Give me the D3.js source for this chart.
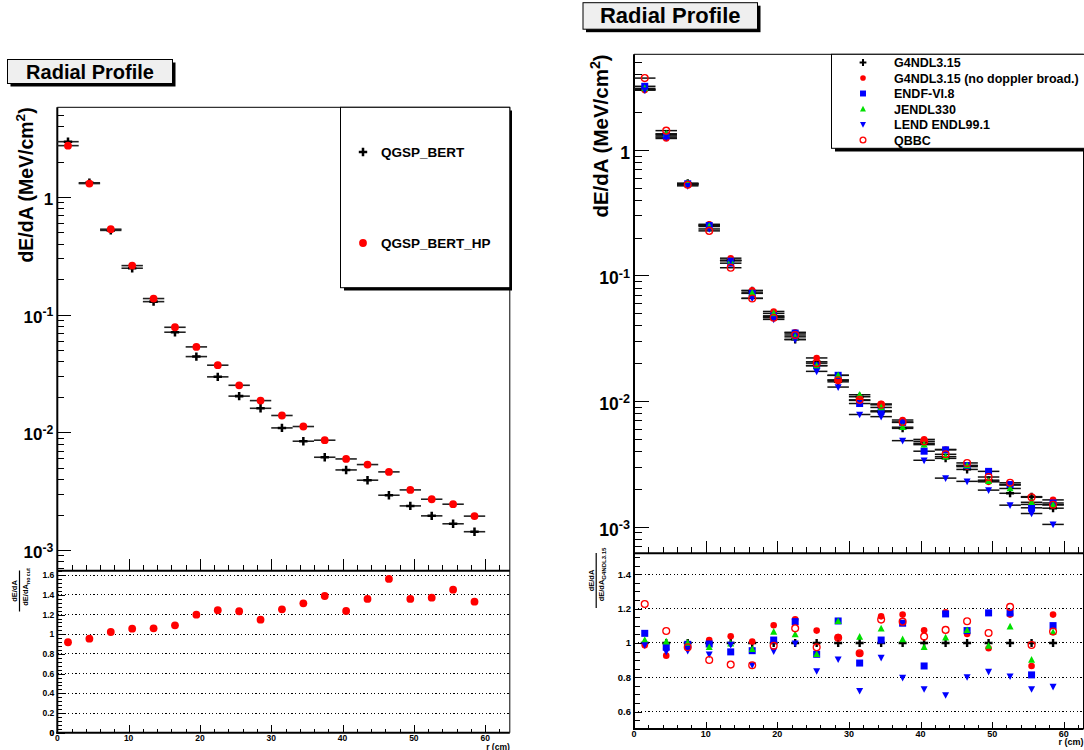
<!DOCTYPE html>
<html><head><meta charset="utf-8">
<script src="https://cdn.jsdelivr.net/npm/d3@7"></script>
<style>
body{margin:0;background:#fff}
svg{display:block}
text{font-family:"Liberation Sans",Arial,Helvetica,sans-serif;font-weight:bold;fill:#000}
</style>
</head><body>
<svg id="c" width="1084" height="750"></svg>
<script>
// ---------------- data ----------------
const bins = [1.5,4.5,7.5,10.5,13.5,16.5,19.5,22.5,25.5,28.5,31.5,34.5,37.5,40.5,43.5,46.5,49.5,52.5,55.5,58.5];
const binHalf = 1.5;
const xMajorTicks = [0,10,20,30,40,50,60];

// left panel
const leftSeriesNames = ["QGSP_BERT","QGSP_BERT_HP"];
const qgspBert   = [2.95,1.32,0.52,0.248,0.129,0.0709,0.044,0.0296,0.0203,0.016,0.0109,0.0084,0.00614,0.00479,0.00392,0.00292,0.00237,0.00195,0.00167,0.00143];
const qgspBertHp = [2.73,1.30,0.532,0.261,0.137,0.0781,0.0532,0.0372,0.0251,0.0186,0.0139,0.0112,0.00857,0.00594,0.00532,0.00461,0.00324,0.0027,0.00245,0.00194];
const ratioHpOverBert = [0.919,0.955,1.023,1.057,1.061,1.091,1.199,1.244,1.234,1.148,1.254,1.315,1.389,1.237,1.359,1.562,1.359,1.372,1.453,1.331];
const leftRatioTicks = [0,0.2,0.4,0.6,0.8,1,1.2,1.4,1.6];

// right panel
const rightSeriesNames = ["G4NDL3.15","G4NDL3.15 (no doppler broad.)","ENDF-VI.8","JENDL330","LEND ENDL99.1","QBBC"];
const g4ndl     = [3.03,1.326,0.54,0.251,0.132,0.0753,0.0468,0.0309,0.0205,0.0142,0.0108,0.0082,0.00605,0.0046,0.00349,0.00285,0.00234,0.00184,0.00173,0.0014];
const g4ndlNoDb = [2.99,1.23,0.529,0.255,0.137,0.0759,0.0516,0.0352,0.022,0.0147,0.0101,0.00947,0.00705,0.00494,0.00411,0.003,0.00227,0.00214,0.0015,0.00163];
const endf      = [3.2,1.29,0.536,0.249,0.125,0.0719,0.0476,0.0347,0.0191,0.016,0.00954,0.00834,0.00675,0.00398,0.00408,0.00306,0.00275,0.00216,0.00141,0.00154];
const jendl     = [3.08,1.34,0.54,0.245,0.131,0.0725,0.0498,0.0324,0.0191,0.016,0.0112,0.00888,0.00618,0.00449,0.0036,0.00306,0.0023,0.00201,0.00156,0.00149];
const lend      = [2.99,1.26,0.516,0.234,0.131,0.0657,0.0446,0.0308,0.0172,0.0129,0.0078,0.0075,0.00483,0.00337,0.00243,0.00229,0.00195,0.00148,0.00127,0.00104];
const qbbc      = [3.72,1.42,0.527,0.226,0.115,0.0655,0.046,0.0335,0.02,0.0146,0.0102,0.00932,0.0068,0.00477,0.00376,0.00321,0.00248,0.00223,0.00171,0.00149];

const rG4ndl     = [1,1,1,1,1,1,1,1,1,1,1,1,1,1,1,1,1,1,1,1];
const rG4ndlNoDb = [0.986,0.926,0.979,1.017,1.039,1.008,1.103,1.138,1.072,1.035,0.938,1.155,1.165,1.074,1.179,1.052,0.969,1.165,0.866,1.165];
const rEndf      = [1.056,0.975,0.992,0.994,0.948,0.955,1.017,1.124,0.934,1.128,0.883,1.017,1.115,0.866,1.169,1.072,1.175,1.175,0.814,1.101];
const rJendl     = [1.017,1.008,1.0,0.975,0.996,0.963,1.064,1.05,0.934,1.126,1.035,1.083,1.021,0.975,1.031,1.074,0.983,1.095,0.901,1.062];
const rLend      = [0.988,0.95,0.955,0.934,0.99,0.872,0.953,0.998,0.837,0.905,0.722,0.915,0.798,0.732,0.697,0.802,0.833,0.806,0.732,0.746];
const rQbbc      = [1.227,1.07,0.975,0.901,0.874,0.87,0.983,1.085,0.975,1.03,0.94,1.136,1.124,1.037,1.076,1.126,1.058,1.21,0.988,1.066];
const rightRatioTicks = [0.6,0.8,1,1.2,1.4];

// ---------------- drawing ----------------
const svg = d3.select("#c");

function marker(sel, type, s, color){
  if(type==="cross"){
    sel.append("path").attr("d",`M${-s},0H${s}M0,${-s}V${s}`).attr("stroke",color).attr("stroke-width",s*0.6).attr("fill","none");
  } else if(type==="dot"){
    sel.append("circle").attr("r",s).attr("fill",color);
  } else if(type==="square"){
    sel.append("rect").attr("x",-s).attr("y",-s).attr("width",2*s).attr("height",2*s).attr("fill",color);
  } else if(type==="tri"){
    sel.append("path").attr("d",`M0,${-s*1.1}L${s},${s*0.8}L${-s},${s*0.8}Z`).attr("fill",color);
  } else if(type==="itri"){
    sel.append("path").attr("d",`M0,${s*1.1}L${s},${-s*0.8}L${-s},${-s*0.8}Z`).attr("fill",color);
  } else if(type==="ocircle"){
    sel.append("circle").attr("r",s).attr("fill","none").attr("stroke",color).attr("stroke-width",1.3);
  }
}

function titleBox(x,y,w,h,fs,baseline){
  svg.append("rect").attr("x",x+3).attr("y",y+3).attr("width",w).attr("height",h).attr("fill","#000");
  svg.append("rect").attr("x",x).attr("y",y).attr("width",w).attr("height",h).attr("fill","#efefef").attr("stroke","#000").attr("stroke-width",1);
  svg.append("text").attr("x",x+w/2).attr("y",baseline).attr("text-anchor","middle").attr("font-size",fs).text("Radial Profile");
}

function powLabel(g, v, x, y, fs){
  const e = Math.round(Math.log10(v));
  const t = g.append("text").attr("x",x).attr("y",y).attr("text-anchor","end").attr("font-size",fs);
  if(e===0){ t.text("1"); }
  else {
    t.append("tspan").text("10");
    t.append("tspan").attr("dy",-fs*0.38).attr("font-size",fs*0.72).text(String(e).replace("-","-"));
  }
}

function drawPanel(o){
  const g = svg.append("g");
  const x  = d3.scaleLinear().domain(o.xDomain).range([o.left,o.right]);
  const y  = d3.scaleLog().domain(o.yDomain).range([o.mid,o.top]);
  const yr = d3.scaleLinear().domain(o.rDomain).range([o.bottom,o.mid]);

  // ratio dotted grid
  g.selectAll("line.grid").data(o.rTicks).join("line")
    .attr("x1",o.left).attr("x2",o.right).attr("y1",d=>yr(d)).attr("y2",d=>yr(d))
    .attr("stroke","#000").attr("stroke-width",1).attr("stroke-dasharray","1.2,2.4");

  // log y axis ticks (main)
  const yt = y.ticks();
  const isMajor = v => Math.abs(Math.log10(v)-Math.round(Math.log10(v)))<1e-9;
  g.append("g").attr("transform",`translate(${o.left},0)`)
    .call(d3.axisLeft(y).tickValues(yt.filter(v=>!isMajor(v))).tickSize(-o.logMinor).tickFormat(""))
    .call(a=>a.select(".domain").remove());
  g.append("g").attr("transform",`translate(${o.left},0)`)
    .call(d3.axisLeft(y).tickValues(yt.filter(isMajor)).tickSize(-o.logMajor).tickFormat(""))
    .call(a=>a.select(".domain").remove());
  yt.filter(isMajor).forEach(v=>powLabel(g,v,o.left-4,y(v)+o.logLabDy,o.tickFs));

  // x ticks on main bottom and ratio bottom
  const xMinor = d3.range(0,o.xDomain[1]+0.001,2).filter(v=>v%10!==0);
  [[o.mid,o.mainXMajor,o.mainXMinor],[o.bottom,o.ratXMajor,o.ratXMinor]].forEach(([yy,maj,mn])=>{
    g.append("g").attr("transform",`translate(0,${yy})`)
      .call(d3.axisBottom(x).tickValues(xMinor).tickSize(-mn).tickFormat(""))
      .call(a=>a.select(".domain").remove());
    g.append("g").attr("transform",`translate(0,${yy})`)
      .call(d3.axisBottom(x).tickValues(xMajorTicks).tickSize(-maj).tickFormat(""))
      .call(a=>a.select(".domain").remove());
  });
  xMajorTicks.forEach(v=>g.append("text").attr("x",x(v)).attr("y",o.xLabY).attr("text-anchor","middle").attr("font-size",o.smallFs).text(v));
  g.append("text").attr("x",o.right).attr("y",o.xTitleY).attr("text-anchor","end").attr("font-size",o.smallFs).text("r (cm)");

  // ratio y ticks
  const rMinor = d3.range(o.rDomain[0]-1e-9, o.rDomain[1], o.rMinorStep).map(v=>Math.round(Math.ceil(v/o.rMinorStep)*o.rMinorStep*1000)/1000)
    .filter(v=>v>=o.rDomain[0]&&v<=o.rDomain[1]);
  g.append("g").attr("transform",`translate(${o.left},0)`)
    .call(d3.axisLeft(yr).tickValues(rMinor).tickSize(-o.rMinorLen).tickFormat(""))
    .call(a=>a.select(".domain").remove());
  g.append("g").attr("transform",`translate(${o.left},0)`)
    .call(d3.axisLeft(yr).tickValues(o.rTicks.concat(o.rDomain[0]===0?[0]:[])).tickSize(-o.rMajorLen).tickFormat(""))
    .call(a=>a.select(".domain").remove());
  o.rTicks.concat(o.rDomain[0]===0?[0]:[]).forEach(v=>g.append("text").attr("x",o.left-3).attr("y",yr(v)+o.rFs*0.36)
     .attr("text-anchor","end").attr("font-size",o.rFs).text(d3.format("~g")(v)));

  g.selectAll("line").attr("shape-rendering","crispEdges");
  g.selectAll(".tick line").attr("stroke","#000");

  // frame
  g.append("line").attr("x1",o.left).attr("x2",o.right).attr("y1",o.top).attr("y2",o.top).attr("stroke","#000").attr("stroke-width",1);
  g.append("line").attr("x1",o.right).attr("x2",o.right).attr("y1",o.top).attr("y2",o.bottom).attr("stroke","#000").attr("stroke-width",1);
  g.append("line").attr("x1",o.left).attr("x2",o.left).attr("y1",o.top).attr("y2",o.bottom+1).attr("stroke","#000").attr("stroke-width",2);
  g.append("line").attr("x1",o.left).attr("x2",o.right).attr("y1",o.mid).attr("y2",o.mid).attr("stroke","#000").attr("stroke-width",2);
  g.append("line").attr("x1",o.left-1).attr("x2",o.right).attr("y1",o.bottom).attr("y2",o.bottom).attr("stroke","#000").attr("stroke-width",2);

  // y titles
  const yl = g.append("text").attr("transform",`translate(${o.yTitleX},${o.top})rotate(-90)`)
    .attr("text-anchor","end").attr("font-size",o.yTitleFs);
  yl.append("tspan").text("dE/dA (MeV/cm");
  yl.append("tspan").attr("dy",-o.yTitleFs*0.4).attr("font-size",o.yTitleFs*0.7).text("2");
  yl.append("tspan").attr("dy",o.yTitleFs*0.4).text(")");

  // ratio fraction label
  const fr = o.frac;
  const fg = g.append("g").attr("transform",`translate(${fr.x},${fr.cy})rotate(-90)`);
  fg.append("text").attr("x",0).attr("y",-2).attr("text-anchor","middle").attr("font-size",fr.fs).text("dE/dA");
  fg.append("line").attr("x1",-fr.len/2).attr("x2",fr.len/2).attr("y1",0.5).attr("y2",0.5).attr("stroke","#000").attr("stroke-width",1.2);
  const dn = fg.append("text").attr("x",fr.dx).attr("y",fr.fs+1).attr("text-anchor","middle").attr("font-size",fr.fs);
  dn.append("tspan").text("dE/dA");
  dn.append("tspan").attr("dy",fr.fs*0.3).attr("font-size",fr.subFs).text(fr.sub);

  return {x,y,yr,g};
}

// ---------- LEFT ----------
titleBox(7.5,59.5,165,24,20,78.5);
const L = drawPanel({
  left:57.3,right:509.8,top:107.3,mid:570.7,bottom:732.7,
  xDomain:[0,63.45],yDomain:[Math.pow(10,-3.176),Math.pow(10,0.762)],rDomain:[0,1.646],
  rTicks:leftRatioTicks,rMinorStep:0.04,rMinorLen:5,rMajorLen:7.5,rFs:8.5,
  logMajor:14,logMinor:7,logLabDy:8,tickFs:17,
  mainXMajor:11.5,mainXMinor:5.5,ratXMajor:8,ratXMinor:4,
  xLabY:741,xTitleY:749.5,smallFs:8.5,
  yTitleX:33,yTitleFs:19.5,
  frac:{x:19,cy:591,len:41,fs:7.5,dx:4,subFs:5.3,sub:"no cut"}
});

// left legend
svg.append("rect").attr("x",344).attr("y",110.5).attr("width",168).attr("height",180).attr("fill","#000");
svg.append("rect").attr("x",340.5).attr("y",107.3).attr("width",169.3).attr("height",180.4).attr("fill","#fff").attr("stroke","#000");
[["cross","#000",152],["dot","#ff0000",243]].forEach(([t,c,yy],i)=>{
  const m = svg.append("g").attr("transform",`translate(363,${yy})`);
  marker(m,t,t==="cross"?4.2:3.9,c);
  svg.append("text").attr("x",381).attr("y",yy+5).attr("font-size",13.5).text(leftSeriesNames[i]);
});

function leftSeries(vals, type, size, color, ratio){
  const g = L.g.append("g");
  g.selectAll("line.eb").data(vals).join("line")
    .attr("x1",(d,i)=>L.x(bins[i]-binHalf)).attr("x2",(d,i)=>L.x(bins[i]+binHalf))
    .attr("y1",d=>L.y(d)).attr("y2",d=>L.y(d)).attr("stroke","#222").attr("stroke-width",1.6);
  vals.forEach((d,i)=>marker(g.append("g").attr("transform",`translate(${L.x(bins[i])},${L.y(d)})`),type,size,color));
}
leftSeries(qgspBert,"cross",4.2,"#000");
leftSeries(qgspBertHp,"dot",3.9,"#ff0000");
ratioHpOverBert.forEach((d,i)=>marker(L.g.append("g").attr("transform",`translate(${L.x(bins[i])},${L.yr(d)})`),"dot",3.9,"#ff0000"));

// ---------- RIGHT ----------
titleBox(583,2.7,174.5,26.5,22,22.7);
const R = drawPanel({
  left:634,right:1083.5,top:54.3,mid:553.3,bottom:729,
  xDomain:[0,62.75],yDomain:[Math.pow(10,-3.213),Math.pow(10,0.76)],rDomain:[0.499,1.522],
  rTicks:rightRatioTicks,rMinorStep:0.05,rMinorLen:6,rMajorLen:7.7,rFs:9.5,
  logMajor:15,logMinor:7.7,logLabDy:9,tickFs:17.5,
  mainXMajor:12.7,mainXMinor:6,ratXMajor:7.5,ratXMinor:4,
  xLabY:737,xTitleY:745,smallFs:9,
  yTitleX:608,yTitleFs:20.5,
  frac:{x:595.7,cy:580.5,len:55,fs:7.5,dx:6,subFs:6,sub:"G4NDL3.15"}
});

const rightMain  = [g4ndl,g4ndlNoDb,endf,jendl,lend,qbbc];
const rightRatio = [rG4ndl,rG4ndlNoDb,rEndf,rJendl,rLend,rQbbc];
const rightStyle = [["cross","#000",4],["dot","#ff0000",3.3],["square","#0000ff",3.5],["tri","#00e000",3.5],["itri","#0000ff",3.5],["ocircle","#ff0000",3.4]];

rightMain.forEach((vals,s)=>{
  const g = R.g.append("g");
  g.selectAll("line.eb").data(vals).join("line")
    .attr("x1",(d,i)=>R.x(bins[i]-binHalf)).attr("x2",(d,i)=>R.x(bins[i]+binHalf))
    .attr("y1",d=>R.y(d)).attr("y2",d=>R.y(d)).attr("stroke","#111").attr("stroke-width",1.5);
});
rightMain.forEach((vals,s)=>{
  const [t,c,sz] = rightStyle[s];
  vals.forEach((d,i)=>marker(R.g.append("g").attr("transform",`translate(${R.x(bins[i])},${R.y(d)})`),t,sz,c));
});
rightRatio.forEach((vals,s)=>{
  const [t,c,sz] = rightStyle[s];
  vals.forEach((d,i)=>marker(R.g.append("g").attr("transform",`translate(${R.x(bins[i])},${R.yr(d)})`),t,sz,c));
});

// right legend
svg.append("rect").attr("x",835).attr("y",57.5).attr("width",260).attr("height",94).attr("fill","#000");
svg.append("rect").attr("x",831.5).attr("y",54.3).attr("width",260).attr("height",94).attr("fill","#fff").attr("stroke","#000");
rightSeriesNames.forEach((n,i)=>{
  const yy = 62.5 + i*15.5;
  const [t,c,sz] = rightStyle[i];
  marker(svg.append("g").attr("transform",`translate(863,${yy})`),t,sz*0.85,c);
  svg.append("text").attr("x",894).attr("y",yy+4.5).attr("font-size",12.5).text(n);
});
</script>
</body></html>
